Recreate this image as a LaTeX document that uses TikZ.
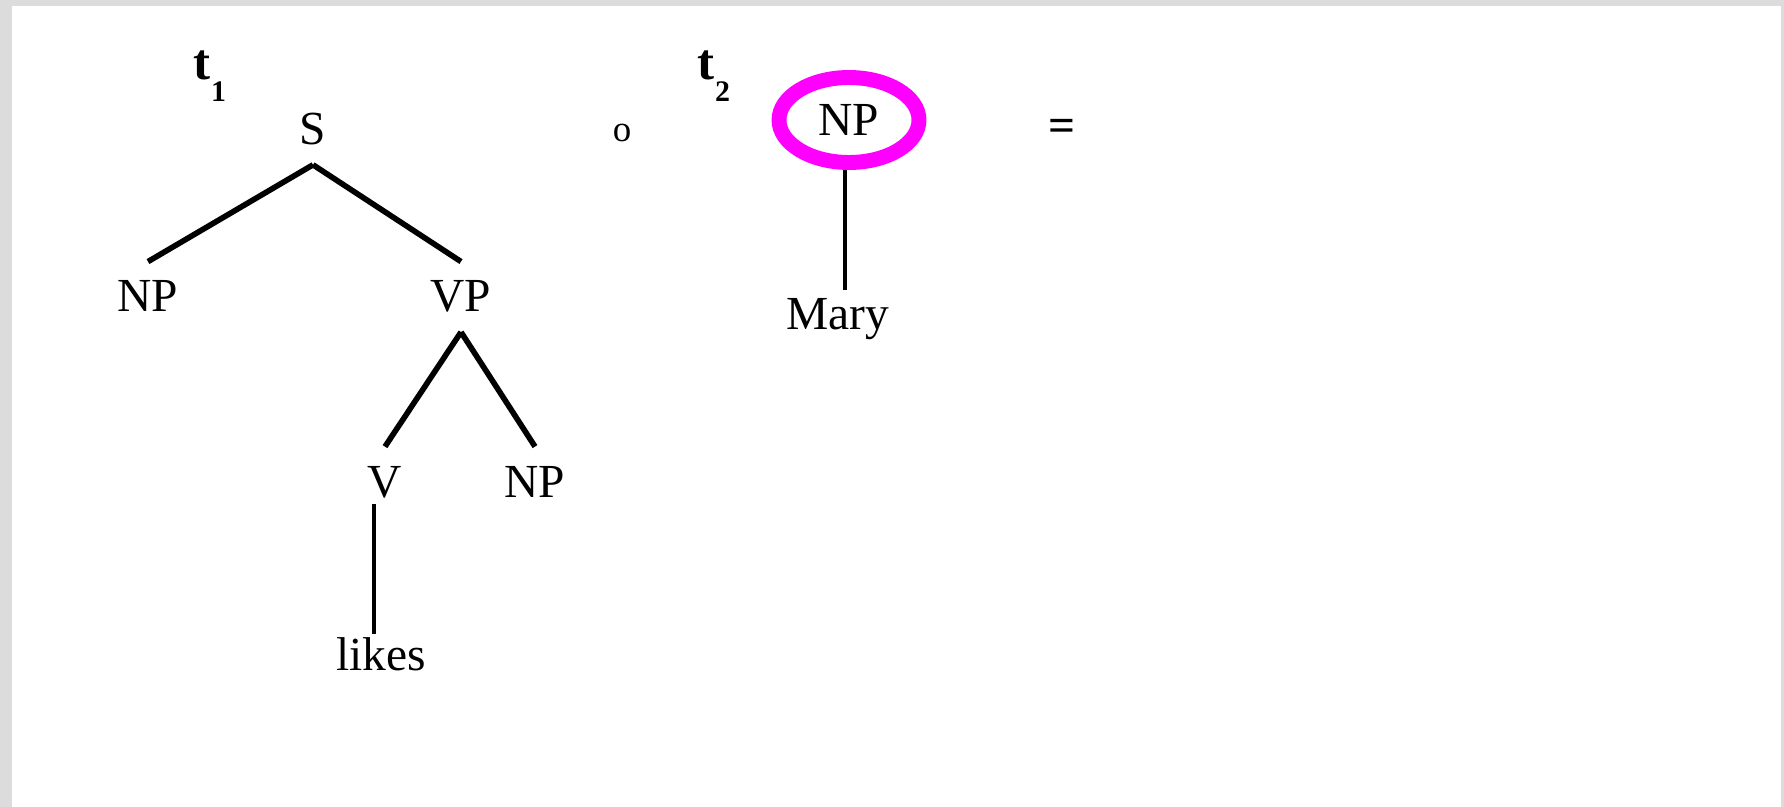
\documentclass[tikz,border=0pt]{standalone}
\usepackage{fontspec}
\setmainfont{Liberation Serif}
\usepackage{tikz}
\usetikzlibrary{positioning, shapes.geometric}
\usepackage{xcolor}
\definecolor{framegray}{RGB}{220,220,220}
\definecolor{ringpink}{RGB}{255,0,255}
\newcommand\catfont{\fontsize{27}{30}\selectfont}

\begin{document}
\begin{tikzpicture}[x=0.02cm, y=-0.02cm,
    cat/.style={font=\catfont, inner xsep=0pt, inner ysep=0.38cm, anchor=base},
    treelabel/.style={font=\fontsize{29}{30}\selectfont\bfseries, inner sep=0pt, anchor=base west},
    treeindex/.style={font=\fontsize{17}{18}\selectfont\bfseries, inner sep=0pt, anchor=base west},
    branch/.style={line width=3.2pt},
    unary/.style={line width=2.3pt},
    ring/.style={draw=ringpink, line width=8.5pt, ellipse, inner sep=0pt,
                 minimum width=2.8cm, minimum height=1.7cm, font=\catfont}]
  % frame
  \useasboundingbox (0,0) rectangle (1784,807);
  \fill[framegray] (0,0) rectangle (1784,807);
  \fill[white] (12,6) rectangle (1781,807);

  % tree t1
  \node[treelabel] (t1) at (193,80) {t};
  \node[treeindex] (t1idx) at ([yshift=-0.44cm]t1.base east) {1};
  \node[cat] (s) at (313,145) {S};
  \node[cat] (np1) at (148,312) {NP};
  \node[cat] (vp) at (461,312) {VP};
  \node[cat] (v) at (385,497) {V};
  \node[cat] (np2) at (535,497) {NP};
  \node[cat] (likes) at (381,670) {likes};
  \draw[branch] (s.south) -- (np1.north);
  \draw[branch] (s.south) -- (vp.north);
  \draw[branch] (vp.south) -- (v.north);
  \draw[branch] (vp.south) -- (np2.north);
  \draw[unary, shorten <=-0.26cm, shorten >=-0.32cm]
    ([xshift=-0.22cm]v.south) -- ([xshift=-0.22cm]v.south |- likes.north);

  % composition sign
  \node[font=\fontsize{21}{24}\selectfont, inner sep=0pt, anchor=base] (comp) at (622,142) {o};

  % tree t2
  \node[treelabel] (t2) at (697,80) {t};
  \node[treeindex] (t2idx) at ([yshift=-0.44cm]t2.base east) {2};
  \node[ring] (np3) at (849,120) {NP};
  \node[cat] (mary) at (838,330) {Mary};
  \draw[unary, shorten >=-0.2cm] ([xshift=-0.08cm]np3.south) -- ([xshift=-0.08cm]np3.south |- mary.north);

  % result
  \node[font=\catfont\bfseries, inner sep=0pt, anchor=base] (eq) at (1062,142) {=};
\end{tikzpicture}
\end{document}
